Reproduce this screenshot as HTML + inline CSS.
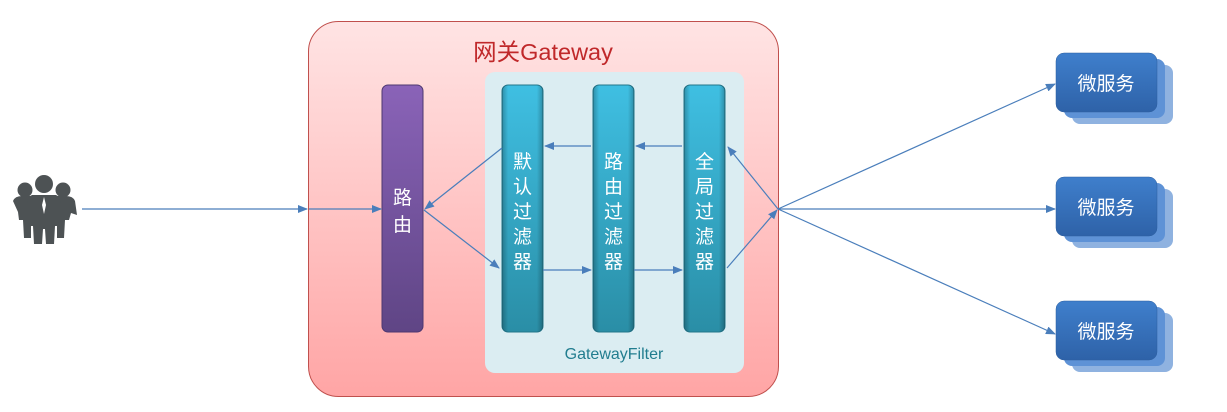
<!DOCTYPE html>
<html><head><meta charset="utf-8"><style>
html,body{margin:0;padding:0;background:#fff;width:1227px;height:412px;overflow:hidden}
text{font-family:"Liberation Sans","Noto Sans CJK SC",sans-serif}
</style></head><body>
<svg width="1227" height="412" viewBox="0 0 1227 412" xmlns="http://www.w3.org/2000/svg">
<defs>
<linearGradient id="gw" x1="0" y1="0" x2="0" y2="1"><stop offset="0" stop-color="#ffe4e4"/><stop offset="1" stop-color="#ffa5a5"/></linearGradient>
<linearGradient id="pu" x1="0" y1="0" x2="0" y2="1"><stop offset="0" stop-color="#8a63b8"/><stop offset="1" stop-color="#5f4585"/></linearGradient>
<linearGradient id="tl" x1="0" y1="0" x2="0" y2="1"><stop offset="0" stop-color="#3fbfe2"/><stop offset="1" stop-color="#2a8ea6"/></linearGradient>
<linearGradient id="tlh" x1="0" y1="0" x2="1" y2="0"><stop offset="0" stop-color="#000" stop-opacity="0.25"/><stop offset="0.15" stop-color="#000" stop-opacity="0"/><stop offset="0.85" stop-color="#000" stop-opacity="0"/><stop offset="1" stop-color="#000" stop-opacity="0.25"/></linearGradient>
<linearGradient id="ms" x1="0" y1="0" x2="0" y2="1"><stop offset="0" stop-color="#3f7fcc"/><stop offset="1" stop-color="#2e62a8"/></linearGradient>
<marker id="ah" markerWidth="10" markerHeight="8" refX="9" refY="4" orient="auto" markerUnits="userSpaceOnUse"><path d="M0,0 L10,4 L0,8 Z" fill="#4a7ebb"/></marker>
</defs>
<!-- people -->
<g fill="#4d5254">
<circle cx="44" cy="184" r="9"/><circle cx="25" cy="190" r="7.5"/><circle cx="63" cy="190" r="7.5"/>
<path d="M13,201 Q15,196 22,196 L31,196 L31,238 L24,238 L23,220 L19,220 L18,212 Z"/>
<path d="M75,201 Q73,196 66,196 L57,196 L57,238 L64,238 L65,220 L69,220 L71,213 L77,215 Z"/>
<path d="M32,195 L56,195 Q61,197 61,204 L61,226 L55,226 L54,244 L46,244 L45,229 L43,229 L42,244 L34,244 L33,226 L27,226 L27,204 Q27,197 32,195 Z"/>
</g>
<path d="M44,197 L46,205 L44,214 L42,205 Z" fill="#fff"/>
<!-- gateway -->
<rect x="308.5" y="21.5" width="470" height="375" rx="30" fill="url(#gw)" stroke="#c0504d" stroke-width="1"/>
<text x="543" y="60" text-anchor="middle" font-size="23.5" fill="#c0282a">网关Gateway</text>
<rect x="485" y="72" width="259" height="301" rx="10" fill="#dbedf2"/>
<text x="614" y="359" text-anchor="middle" font-size="16" fill="#217d8f">GatewayFilter</text>
<!-- bars -->
<rect x="382" y="85" width="41" height="247" rx="6" fill="url(#pu)" stroke="#4e3870" stroke-width="1"/>
<g fill="#fff" font-size="19" text-anchor="middle">
<text x="402.5" y="204">路</text><text x="402.5" y="231">由</text>
</g>
<g>
<rect x="502" y="85" width="41" height="247" rx="6" fill="url(#tl)" stroke="#23768a"/>
<rect x="502" y="85" width="41" height="247" rx="6" fill="url(#tlh)"/>
<rect x="593" y="85" width="41" height="247" rx="6" fill="url(#tl)" stroke="#23768a"/>
<rect x="593" y="85" width="41" height="247" rx="6" fill="url(#tlh)"/>
<rect x="684" y="85" width="41" height="247" rx="6" fill="url(#tl)" stroke="#23768a"/>
<rect x="684" y="85" width="41" height="247" rx="6" fill="url(#tlh)"/>
</g>
<g fill="#fff" font-size="19" text-anchor="middle">
<text x="522.5" y="168">默</text><text x="522.5" y="193">认</text><text x="522.5" y="218">过</text><text x="522.5" y="243">滤</text><text x="522.5" y="268">器</text>
<text x="613.5" y="168">路</text><text x="613.5" y="193">由</text><text x="613.5" y="218">过</text><text x="613.5" y="243">滤</text><text x="613.5" y="268">器</text>
<text x="704.5" y="168">全</text><text x="704.5" y="193">局</text><text x="704.5" y="218">过</text><text x="704.5" y="243">滤</text><text x="704.5" y="268">器</text>
</g>
<!-- microservices -->
<g id="m">
<rect x="1072" y="65" width="101" height="59" rx="8" fill="#8fb2e0"/>
<rect x="1064" y="59" width="101" height="59" rx="8" fill="#5e92d6"/>
<rect x="1056" y="53" width="101" height="59" rx="8" fill="url(#ms)" stroke="#2c5e9e" stroke-width="0.5"/>
<text x="1106" y="90" text-anchor="middle" font-size="19" fill="#fff">微服务</text>
</g>
<use href="#m" y="124"/>
<use href="#m" y="248"/>
<!-- connectors -->
<g stroke="#4a7ebb" stroke-width="1.2" fill="none" marker-end="url(#ah)">
<line x1="82" y1="209" x2="307" y2="209"/>
<line x1="309" y1="209" x2="381" y2="209"/>
<line x1="424" y1="210" x2="499" y2="268"/>
<line x1="502" y1="148" x2="425" y2="209"/>
<line x1="543" y1="270" x2="591" y2="270"/>
<line x1="634" y1="270" x2="682" y2="270"/>
<line x1="591" y1="146" x2="545" y2="146"/>
<line x1="682" y1="146" x2="636" y2="146"/>
<line x1="727" y1="268" x2="777" y2="210"/>
<line x1="778" y1="209" x2="728" y2="147"/>
<line x1="778" y1="209" x2="1055" y2="84"/>
<line x1="778" y1="209" x2="1055" y2="209"/>
<line x1="778" y1="209" x2="1055" y2="334"/>
</g>
</svg>
</body></html>
